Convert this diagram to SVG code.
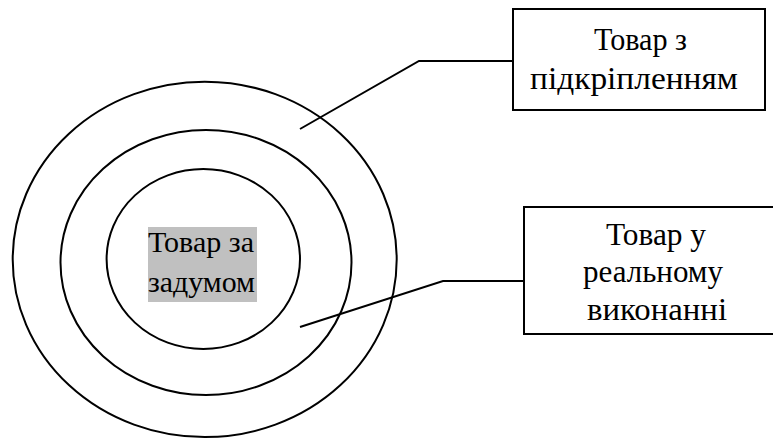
<svg xmlns="http://www.w3.org/2000/svg" width="773" height="439" viewBox="0 0 773 439">
<style>
.ring{fill:none;stroke:#000;stroke-width:2}
.box{fill:#fff;stroke:#000;stroke-width:2}
.con{fill:none;stroke:#000;stroke-width:2}
.t{font-size:31px;fill:#000}
.c{font-size:30px;fill:#000}
</style>
<rect width="773" height="439" fill="#fff"/>
<g id="outer"><ellipse class="ring" cx="204.7" cy="259.4" rx="192" ry="177.7"/></g>
<g id="middle"><ellipse class="ring" cx="206" cy="262.5" rx="145.5" ry="132.5"/></g>
<g id="inner" font-family="Liberation Serif, DejaVu Serif, serif">
<ellipse class="ring" cx="203.3" cy="259" rx="96.7" ry="90"/>
<rect x="148" y="227" width="109" height="75" fill="#c0c0c0"/>
<text class="c" x="148" y="251.7" textLength="106" lengthAdjust="spacingAndGlyphs">Товар за</text>
<text class="c" x="148" y="291.7" textLength="107" lengthAdjust="spacingAndGlyphs">задумом</text>
</g>
<g id="connectors">
<polyline class="con" points="300,129 419,61 513,61"/>
<polyline class="con" points="300,327 443,281 524,281"/>
</g>
<g id="box1" font-family="Liberation Serif, DejaVu Serif, serif">
<rect class="box" x="513" y="9" width="252" height="101"/>
<text class="t" x="594" y="50" textLength="93" lengthAdjust="spacingAndGlyphs">Товар з</text>
<text class="t" x="530" y="88.5" textLength="208" lengthAdjust="spacingAndGlyphs">підкріпленням</text>
</g>
<g id="box2" font-family="Liberation Serif, DejaVu Serif, serif">
<rect class="box" x="524" y="207" width="260" height="127"/>
<text class="t" x="606" y="245" textLength="100" lengthAdjust="spacingAndGlyphs">Товар у</text>
<text class="t" x="583" y="282" textLength="140" lengthAdjust="spacingAndGlyphs">реальному</text>
<text class="t" x="587" y="320" textLength="140" lengthAdjust="spacingAndGlyphs">виконанні</text>
</g>
</svg>
